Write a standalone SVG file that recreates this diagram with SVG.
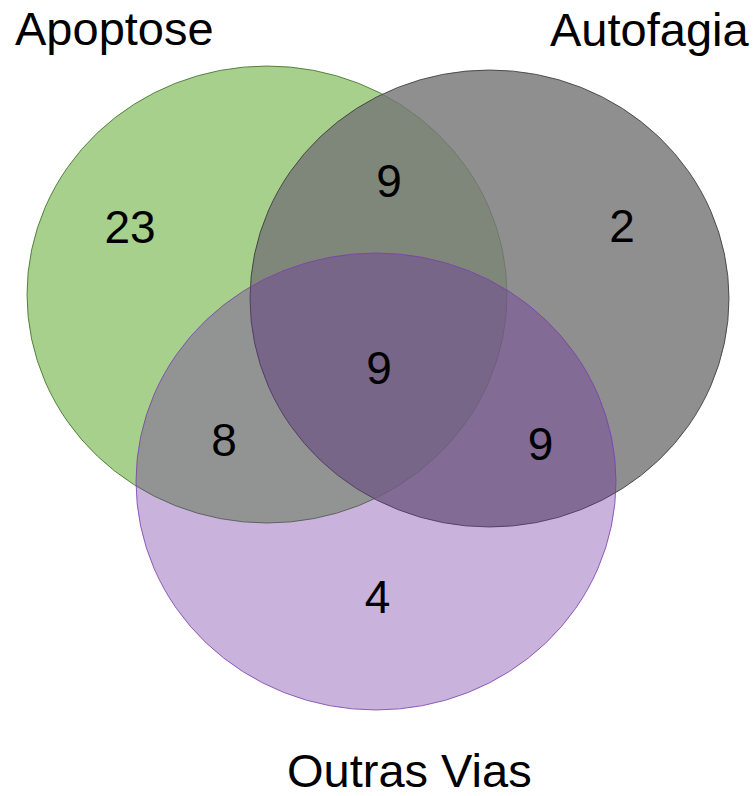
<svg xmlns="http://www.w3.org/2000/svg" width="755" height="796" viewBox="0 0 755 796">
<style>
text{font-family:"Liberation Sans",Arial,sans-serif;font-size:46px;fill:#000}
.t{font-size:47px}
.n{text-anchor:middle}
</style>
<rect width="755" height="796" fill="#fff"/>
<g id="apoptose">
<ellipse cx="267" cy="294.5" rx="240" ry="228.5" fill="#4da119" fill-opacity="0.5" stroke="#3a6a22" stroke-opacity="0.8" stroke-width="1"/>
</g>
<g id="autofagia">
<ellipse cx="489.5" cy="298.5" rx="239.5" ry="228.5" fill="#767676" fill-opacity="0.82" stroke="#333" stroke-opacity="0.8" stroke-width="1"/>
</g>
<g id="outras-vias">
<ellipse cx="376" cy="481.5" rx="240" ry="228.5" fill="#6d2fa0" fill-opacity="0.37" stroke="#7a3fae" stroke-opacity="0.8" stroke-width="1"/>
</g>
<g id="labels">
<text class="t" x="15" y="45">Apoptose</text>
<text class="t" x="550" y="46">Autofagia</text>
<text class="t" x="287" y="787">Outras Vias</text>
<text class="n" x="130" y="243">23</text>
<text class="n" x="389" y="197">9</text>
<text class="n" x="622" y="242">2</text>
<text class="n" x="379" y="384">9</text>
<text class="n" x="224" y="456">8</text>
<text class="n" x="540.5" y="460">9</text>
<text class="n" x="377.5" y="613">4</text>
</g>
</svg>
